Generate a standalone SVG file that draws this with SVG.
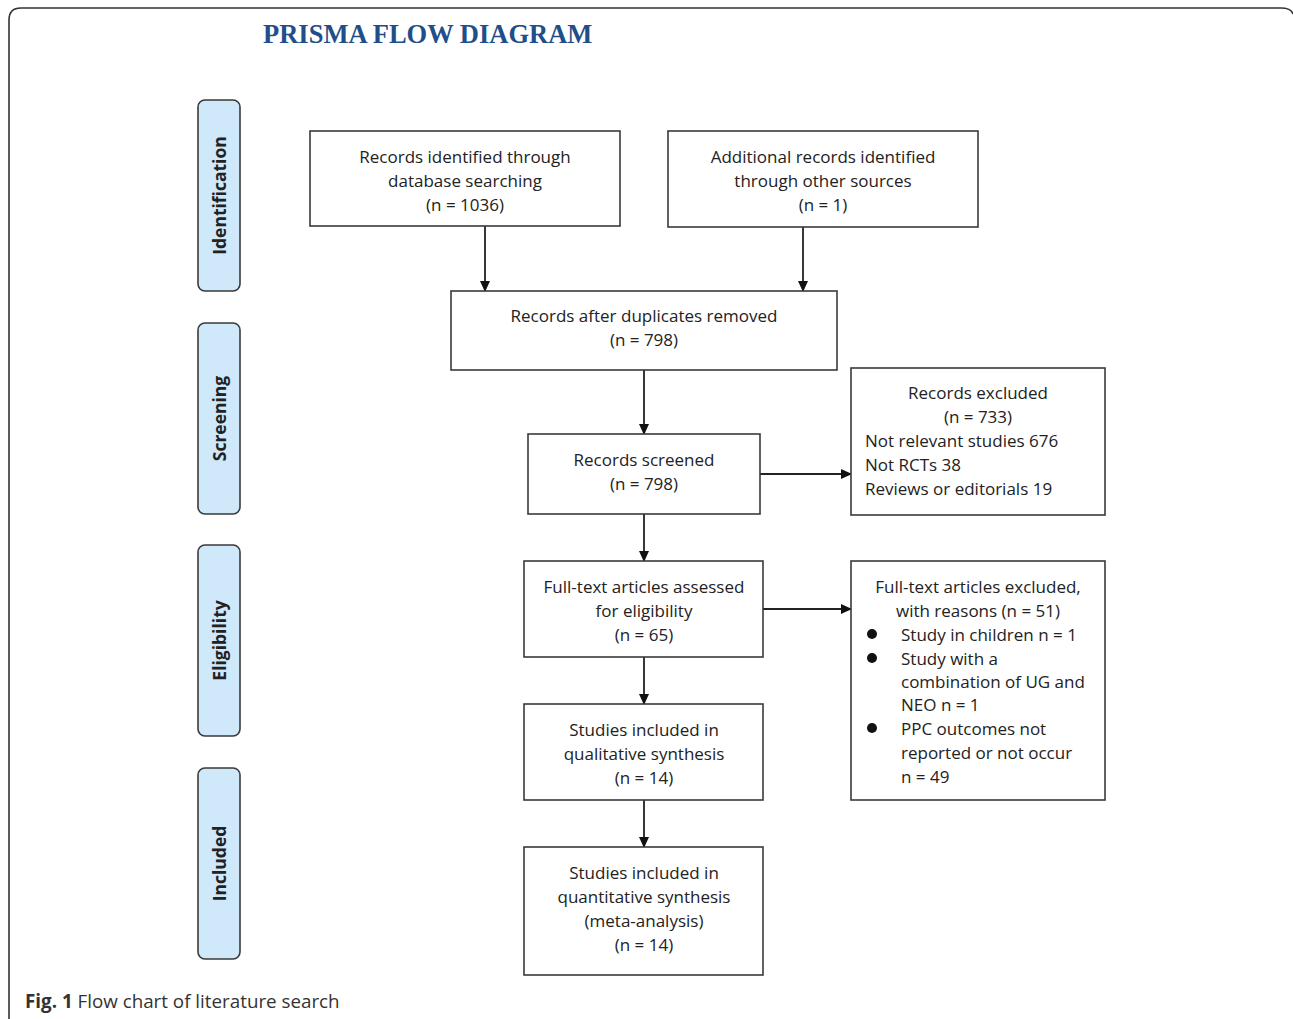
<svg xmlns="http://www.w3.org/2000/svg" width="1293" height="1019" viewBox="0 0 1293 1019">
<style>
.box{fill:#fff;stroke:#3a3a3a;stroke-width:1.6}
.side{fill:#cfe8fa;stroke:#3a3a3a;stroke-width:1.6}
.t{font-family:"Open Sans","Noto Sans",sans-serif;font-size:17px;fill:#222}
.c{text-anchor:middle}
.s{font-family:"Open Sans","Noto Sans",sans-serif;font-size:17.5px;font-weight:bold;fill:#222;text-anchor:middle}
.ln{stroke:#222;stroke-width:1.8;fill:none}
</style>
<defs>
<marker id="ah" markerWidth="11" markerHeight="11" refX="10" refY="5.5" orient="auto" markerUnits="userSpaceOnUse">
<path d="M0,0.5 L11,5.5 L0,10.5 Z" fill="#111"/>
</marker>
</defs>
<rect width="1293" height="1019" fill="#fff"/>
<path d="M9,1030 L9,20 Q9,8 21,8 L1281,8 Q1291,8 1293,14" fill="none" stroke="#333" stroke-width="1.6"/>
<text x="263" y="43" font-family="Liberation Serif,serif" font-weight="bold" font-size="26.5" fill="#1f4e8a">PRISMA FLOW DIAGRAM</text>

<g id="side-identification"><rect class="side" x="198" y="100" width="42" height="191" rx="7"/><text class="s" transform="translate(226,195.5) rotate(-90)">Identification</text></g>
<g id="side-screening"><rect class="side" x="198" y="323" width="42" height="191" rx="7"/><text class="s" transform="translate(226,418.5) rotate(-90)">Screening</text></g>
<g id="side-eligibility"><rect class="side" x="198" y="545" width="42" height="191" rx="7"/><text class="s" transform="translate(226,640.5) rotate(-90)">Eligibility</text></g>
<g id="side-included"><rect class="side" x="198" y="768" width="42" height="191" rx="7"/><text class="s" transform="translate(226,863.5) rotate(-90)">Included</text></g>

<g id="connectors">
<line class="ln" x1="485" y1="226" x2="485" y2="291" marker-end="url(#ah)"/>
<line class="ln" x1="803" y1="227" x2="803" y2="291" marker-end="url(#ah)"/>
<line class="ln" x1="644" y1="370" x2="644" y2="434" marker-end="url(#ah)"/>
<line class="ln" x1="760" y1="474" x2="851" y2="474" marker-end="url(#ah)"/>
<line class="ln" x1="644" y1="514" x2="644" y2="561" marker-end="url(#ah)"/>
<line class="ln" x1="763" y1="609" x2="851" y2="609" marker-end="url(#ah)"/>
<line class="ln" x1="644" y1="657" x2="644" y2="704" marker-end="url(#ah)"/>
<line class="ln" x1="644" y1="800" x2="644" y2="847" marker-end="url(#ah)"/>
</g>

<g id="n-db"><rect class="box" x="310" y="131" width="310" height="95"/>
<text class="t c" x="465" y="163">Records identified through</text>
<text class="t c" x="465" y="187">database searching</text>
<text class="t c" x="465" y="211">(n = 1036)</text></g>

<g id="n-other"><rect class="box" x="668" y="131" width="310" height="96"/>
<text class="t c" x="823" y="163">Additional records identified</text>
<text class="t c" x="823" y="187">through other sources</text>
<text class="t c" x="823" y="211">(n = 1)</text></g>

<g id="n-dup"><rect class="box" x="451" y="291" width="386" height="79"/>
<text class="t c" x="644" y="322">Records after duplicates removed</text>
<text class="t c" x="644" y="346">(n = 798)</text></g>

<g id="n-screened"><rect class="box" x="528" y="434" width="232" height="80"/>
<text class="t c" x="644" y="466">Records screened</text>
<text class="t c" x="644" y="490">(n = 798)</text></g>

<g id="n-excluded"><rect class="box" x="851" y="368" width="254" height="147"/>
<text class="t c" x="978" y="399">Records excluded</text>
<text class="t c" x="978" y="423">(n = 733)</text>
<text class="t" x="865" y="447">Not relevant studies 676</text>
<text class="t" x="865" y="471">Not RCTs 38</text>
<text class="t" x="865" y="495">Reviews or editorials 19</text></g>

<g id="n-fulltext"><rect class="box" x="524" y="561" width="239" height="96"/>
<text class="t c" x="644" y="593">Full-text articles assessed</text>
<text class="t c" x="644" y="617">for eligibility</text>
<text class="t c" x="644" y="641">(n = 65)</text></g>

<g id="n-ftexcluded"><rect class="box" x="851" y="561" width="254" height="239"/>
<text class="t c" x="978" y="593">Full-text articles excluded,</text>
<text class="t c" x="978" y="617">with reasons (n = 51)</text>
<circle cx="872" cy="634" r="5" fill="#111"/>
<text class="t" x="901" y="641">Study in children n = 1</text>
<circle cx="872" cy="658" r="5" fill="#111"/>
<text class="t" x="901" y="665">Study with a</text>
<text class="t" x="901" y="688">combination of UG and</text>
<text class="t" x="901" y="711">NEO n = 1</text>
<circle cx="872" cy="728" r="5" fill="#111"/>
<text class="t" x="901" y="735">PPC outcomes not</text>
<text class="t" x="901" y="759">reported or not occur</text>
<text class="t" x="901" y="783">n = 49</text></g>

<g id="n-qual"><rect class="box" x="524" y="704" width="239" height="96"/>
<text class="t c" x="644" y="736">Studies included in</text>
<text class="t c" x="644" y="760">qualitative synthesis</text>
<text class="t c" x="644" y="784">(n = 14)</text></g>

<g id="n-quant"><rect class="box" x="524" y="847" width="239" height="128"/>
<text class="t c" x="644" y="879">Studies included in</text>
<text class="t c" x="644" y="903">quantitative synthesis</text>
<text class="t c" x="644" y="927">(meta-analysis)</text>
<text class="t c" x="644" y="951">(n = 14)</text></g>

<text x="25" y="1008" font-family="Open Sans,sans-serif" font-size="18.8" fill="#333"><tspan font-weight="bold">Fig. 1</tspan> Flow chart of literature search</text>
</svg>
